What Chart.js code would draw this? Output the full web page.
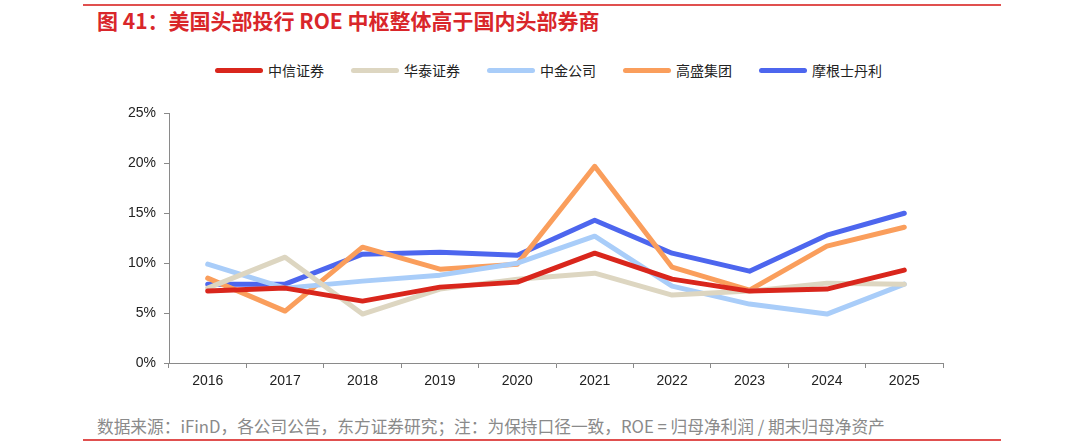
<!DOCTYPE html>
<html>
<head>
<meta charset="utf-8">
<script src="https://cdn.jsdelivr.net/npm/chart.js@4/dist/chart.umd.min.js"></script>
<style>
  html, body { margin: 0; padding: 0; background: #fff; }
  body { width: 1080px; height: 444px; position: relative; overflow: hidden;
         font-family: "Noto Sans CJK SC", "Noto Sans", sans-serif; }
  .rule { position: absolute; left: 83px; width: 918px; height: 2px; background: #e0504f; }
  #title { position: absolute; left: 97px; top: 6px; font-size: 21px; font-weight: bold;
           color: #d9262a; white-space: nowrap; line-height: 28px; }
  #source { position: absolute; left: 97px; top: 414px; font-size: 16.7px; color: #8a8a8a;
            white-space: nowrap; line-height: 24px; }
  #legend { position: absolute; left: 215px; top: 60px; height: 20px; display: flex;
            align-items: center; font-size: 14px; color: #222; white-space: nowrap; }
  .item { display: flex; align-items: center; margin-right: 27px; }
  .swatch { width: 48px; height: 5px; border-radius: 3px; margin-right: 5px; }
  #wrap { position: absolute; left: 0; top: 97px; width: 1080px; height: 300px; }
</style>
</head>
<body>
<div class="rule" style="top:4px"></div>
<div id="title">图 41：美国头部投行 ROE 中枢整体高于国内头部券商</div>
<div id="legend"></div>
<div id="wrap"><canvas id="c"></canvas></div>
<div id="source">数据来源：iFinD，各公司公告，东方证券研究；注：为保持口径一致，ROE = 归母净利润 / 期末归母净资产</div>
<div class="rule" style="top:439px"></div>
<script>
const years = ["2016","2017","2018","2019","2020","2021","2022","2023","2024","2025"];
const seriesNames = ["中信证券","华泰证券","中金公司","高盛集团","摩根士丹利"];
const citic   = [7.2, 7.5, 6.2, 7.6, 8.1, 11.0, 8.4, 7.2, 7.4, 9.3];
const htsc    = [7.5, 10.6, 4.9, 7.4, 8.4, 9.0, 6.8, 7.2, 8.0, 7.9];
const cicc    = [9.9, 7.5, 8.2, 8.8, 10.0, 12.7, 7.7, 5.9, 4.9, 7.9];
const gs      = [8.5, 5.2, 11.6, 9.4, 9.9, 19.7, 9.6, 7.3, 11.7, 13.6];
const ms      = [7.9, 7.9, 10.9, 11.1, 10.8, 14.3, 11.0, 9.2, 12.8, 15.0];
const yTicks  = [0, 5, 10, 15, 20, 25];
const colors  = ["#d9261c","#ddd6c1","#a9cdf9","#fa9e5c","#4d66ee"];
const values  = [citic, htsc, cicc, gs, ms];

const legend = document.getElementById('legend');
seriesNames.forEach((n, i) => {
  const it = document.createElement('div'); it.className = 'item';
  const sw = document.createElement('div'); sw.className = 'swatch'; sw.style.background = colors[i];
  const tx = document.createElement('span'); tx.textContent = n;
  it.appendChild(sw); it.appendChild(tx); legend.appendChild(it);
});

const datasets = seriesNames.map((n, i) => ({
  label: n, data: values[i], borderColor: colors[i], backgroundColor: colors[i],
  borderWidth: 5, pointRadius: 0, pointHoverRadius: 0, tension: 0,
  borderCapStyle: 'round', borderJoinStyle: 'round', fill: false
}));

new Chart(document.getElementById('c'), {
  type: 'line',
  data: { labels: years, datasets },
  options: {
    responsive: true, maintainAspectRatio: false, animation: false,
    layout: { padding: { top: 9, right: 137, bottom: 4, left: 0 } },
    plugins: { legend: { display: false }, tooltip: { enabled: false } },
    scales: {
      x: {
        offset: true,
        grid: { display: true, drawOnChartArea: false, offset: true, tickLength: 5, color: '#8a8a8a' },
        border: { color: '#8a8a8a', width: 1 },
        ticks: { color: '#222', font: { size: 14, family: 'Liberation Sans, Arial, sans-serif' }, padding: 5, maxRotation: 0 },
        afterFit: s => { s.height = 30; }
      },
      y: {
        min: 0, max: 25,
        afterBuildTicks: s => { s.ticks = yTicks.map(v => ({ value: v })); },
        grid: { display: true, drawOnChartArea: false, tickLength: 5, color: '#8a8a8a' },
        border: { color: '#8a8a8a', width: 1 },
        ticks: { color: '#222', font: { size: 14, family: 'Liberation Sans, Arial, sans-serif' }, padding: 8,
                 callback: v => v + '%' },
        afterFit: s => { s.width = 169; }
      }
    }
  }
});
</script>
</body>
</html>
